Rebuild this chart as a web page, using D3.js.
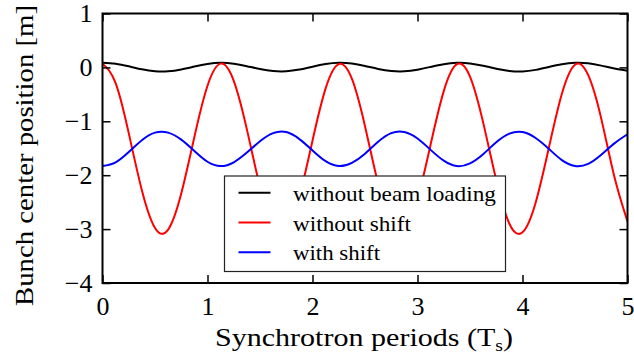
<!DOCTYPE html>
<html>
<head>
<meta charset="utf-8">
<script src="https://cdn.jsdelivr.net/npm/d3@7"></script>
<style>
  html, body { margin: 0; padding: 0; background: #fff; }
  svg { display: block; }
  text { font-family: "Liberation Serif", "DejaVu Serif", serif; fill: #000; }
</style>
</head>
<body>
<svg id="chart" width="634" height="358"></svg>
<script>
// Time axis in synchrotron periods, sampled every 1/8 period unit
const timeTs = d3.range(0, 41).map(k => k * 0.125);

// Bunch center position [m] for each case
const withoutBeamLoading = [
  0.085, 0.067, 0.020, -0.034, -0.070, -0.071, -0.037, 0.016, 0.064, 0.085,
  0.069, 0.023, -0.031, -0.068, -0.072, -0.040, 0.013, 0.062, 0.085, 0.071,
  0.026, -0.028, -0.067, -0.073, -0.043, 0.009, 0.059, 0.084, 0.073, 0.030,
  -0.024, -0.065, -0.074, -0.046, 0.006, 0.057, 0.084, 0.075, 0.033, -0.021,
  -0.063
];
const withoutShift = [
  0.07, -0.29, -1.22, -2.28, -2.98, -3.01, -2.34, -1.29, -0.34, 0.07,
  -0.25, -1.15, -2.22, -2.96, -3.03, -2.40, -1.36, -0.39, 0.06, -0.21,
  -1.09, -2.16, -2.93, -3.05, -2.45, -1.43, -0.44, 0.06, -0.17, -1.02,
  -2.09, -2.90, -3.06, -2.51, -1.50, -0.49, 0.05, -0.14, -0.95, -2.03,
  -2.86
];
const withShift = [
  -1.83, -1.76, -1.57, -1.35, -1.21, -1.21, -1.34, -1.55, -1.75, -1.83,
  -1.76, -1.58, -1.37, -1.22, -1.20, -1.33, -1.54, -1.74, -1.83, -1.77,
  -1.60, -1.38, -1.22, -1.20, -1.32, -1.53, -1.73, -1.83, -1.78, -1.61,
  -1.39, -1.23, -1.20, -1.31, -1.51, -1.72, -1.83, -1.79, -1.62, -1.41,
  -1.24
];

const seriesNames = ["without beam loading", "without shift", "with shift"];
const seriesColors = ["#000000", "#ff0000", "#0000ff"];
const seriesValues = [withoutBeamLoading, withoutShift, withShift];
const legendWidths = [203, 118, 87];

const xTicks = [0, 1, 2, 3, 4, 5];
const yTicks = [1, 0, -1, -2, -3, -4];

const margin = { left: 102.5, right: 6.5, top: 13.5, bottom: 75 };
const W = 634, H = 358;
const svg = d3.select("#chart");

const x = d3.scaleLinear().domain([0, 5]).range([margin.left, W - margin.right]);
const y = d3.scaleLinear().domain([-4, 1]).range([H - margin.bottom, margin.top]);

const fmt = v => (v < 0 ? "\u2212" + Math.abs(v) : String(v));

// Clip curves to the axes box
svg.append("clipPath").attr("id", "plotclip")
  .append("rect")
  .attr("x", x(0)).attr("y", y(1))
  .attr("width", x(5) - x(0)).attr("height", y(-4) - y(1));

// Curves
const line = d3.line()
  .x((d, i) => x(timeTs[i]))
  .y(d => y(d))
  .curve(d3.curveNatural);

const curves = svg.append("g").attr("clip-path", "url(#plotclip)");
seriesValues.forEach((vals, i) => {
  curves.append("path")
    .datum(vals)
    .attr("d", line)
    .attr("fill", "none")
    .attr("stroke", seriesColors[i])
    .attr("stroke-width", 2);
});

// Axes with inward ticks on all four sides
const tickLen = 8;
const axisBottom = d3.axisBottom(x).tickValues(xTicks).tickSizeInner(-tickLen).tickSizeOuter(0).tickPadding(14).tickFormat(fmt);
const axisTop = d3.axisTop(x).tickValues(xTicks).tickSizeInner(-tickLen).tickSizeOuter(0).tickFormat("");
const axisLeft = d3.axisLeft(y).tickValues(yTicks).tickSizeInner(-tickLen).tickSizeOuter(0).tickPadding(10).tickFormat(fmt);
const axisRight = d3.axisRight(y).tickValues(yTicks).tickSizeInner(-tickLen).tickSizeOuter(0).tickFormat("");

function styleAxis(g) {
  g.select(".domain").remove();
  g.selectAll(".tick line").attr("stroke", "#000").attr("stroke-width", 1.5);
  g.selectAll(".tick text").style("font-size", "26px").attr("fill", "#000");
}

svg.append("g").attr("transform", `translate(0,${y(-4)})`).call(axisBottom).call(styleAxis);
svg.append("g").attr("transform", `translate(0,${y(1)})`).call(axisTop).call(styleAxis);
svg.append("g").attr("transform", `translate(${x(0)},0)`).call(axisLeft).call(styleAxis);
svg.append("g").attr("transform", `translate(${x(5)},0)`).call(axisRight).call(styleAxis);

svg.selectAll(".tick text").attr("font-family", null);

// Frame
svg.append("rect")
  .attr("x", x(0)).attr("y", y(1))
  .attr("width", x(5) - x(0)).attr("height", y(-4) - y(1))
  .attr("fill", "none").attr("stroke", "#000").attr("stroke-width", 2);

// Axis titles
const xTitle = svg.append("text")
  .attr("x", 215).attr("y", 346)
  .attr("textLength", 298)
  .attr("lengthAdjust", "spacingAndGlyphs")
  .style("font-size", "26px");
xTitle.append("tspan").text("Synchrotron periods (T");
xTitle.append("tspan").attr("dy", 5).style("font-size", "17px").text("s");
xTitle.append("tspan").attr("dy", -5).text(")");

svg.append("text")
  .attr("transform", "translate(33,306) rotate(-90)")
  .attr("textLength", 301)
  .attr("lengthAdjust", "spacingAndGlyphs")
  .style("font-size", "26px")
  .text("Bunch center position [m]");

// Legend
const legend = svg.append("g").attr("transform", "translate(224.5,176)");
legend.append("rect")
  .attr("width", 281).attr("height", 95.5)
  .attr("fill", "#fff").attr("stroke", "#222").attr("stroke-width", 1.2);
seriesNames.forEach((name, i) => {
  const cy = 16.7 + i * 29.8;
  legend.append("line")
    .attr("x1", 14).attr("x2", 46).attr("y1", cy).attr("y2", cy)
    .attr("stroke", seriesColors[i]).attr("stroke-width", 2);
  legend.append("text")
    .attr("x", 68.5).attr("y", cy + 8)
    .attr("textLength", legendWidths[i])
    .attr("lengthAdjust", "spacingAndGlyphs")
    .style("font-size", "21px")
    .text(name);
});
</script>
</body>
</html>
